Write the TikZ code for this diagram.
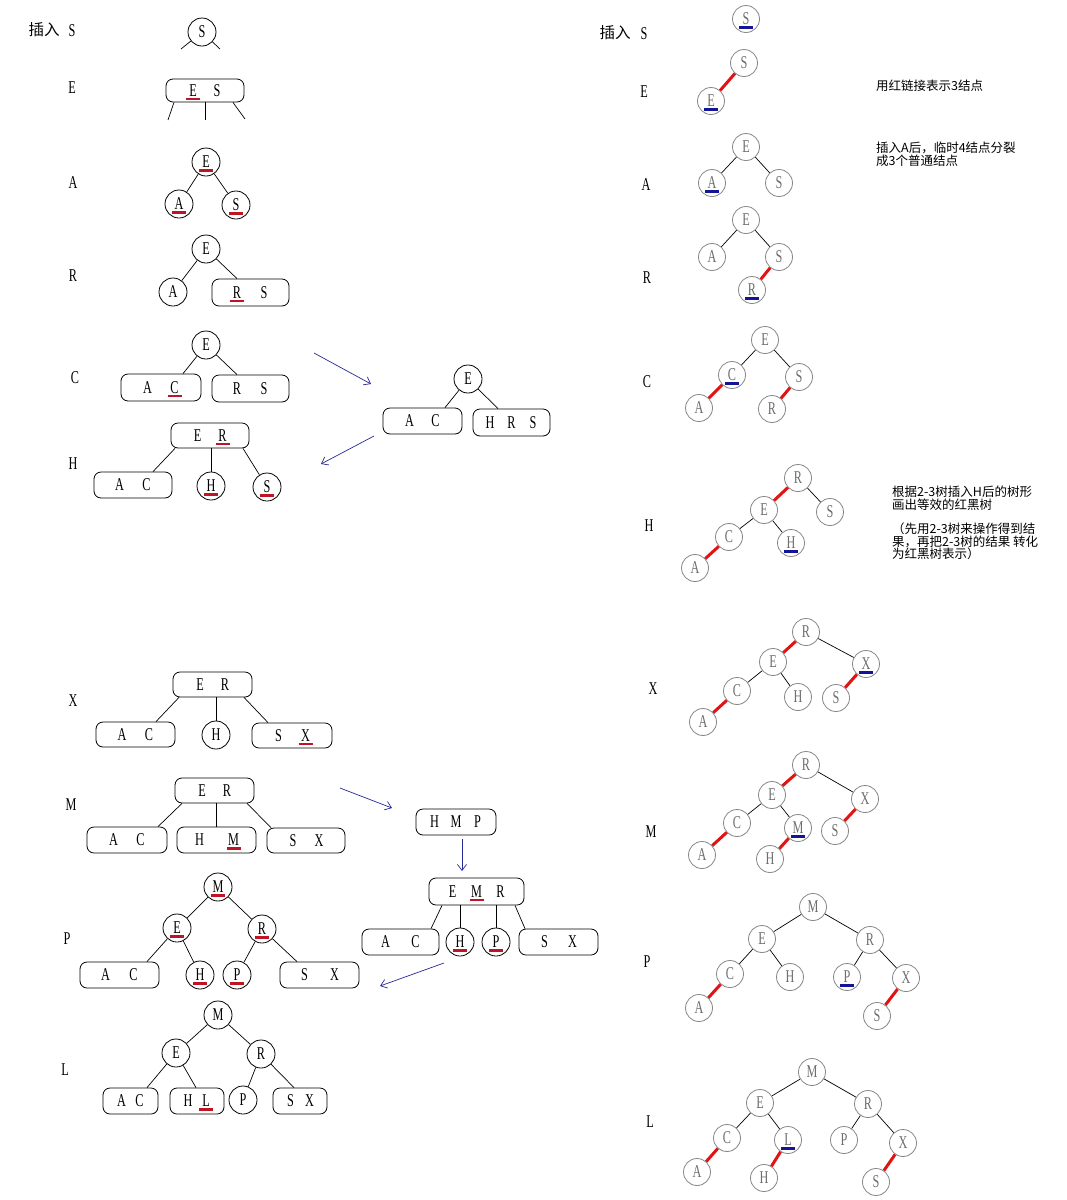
\documentclass[tikz,border=0pt]{standalone}
\usepackage{fontspec}
\setmainfont[FakeStretch=0.68]{Liberation Serif}
\newfontfamily\cjk{Noto Sans CJK SC}
\usetikzlibrary{arrows.meta}

\definecolor{ulred}{RGB}{190,20,35}
\definecolor{ulblue}{RGB}{20,20,150}
\definecolor{lnkred}{RGB}{225,20,20}
\definecolor{ringgray}{RGB}{135,135,135}
\definecolor{txtgray}{RGB}{110,110,110}
\definecolor{arrblue}{RGB}{40,40,150}

% underline marks for the key just inserted
\newcommand\redmark[1]{\setbox0\hbox{#1}\rlap{\hbox to\wd0{\hss\textcolor{ulred}{\rule[-4pt]{14pt}{2.5pt}}\hss}}\box0}
\newcommand\bluemark[1]{\setbox0\hbox{#1}\rlap{\hbox to\wd0{\hss\textcolor{ulblue}{\rule[-4pt]{14pt}{2.5pt}}\hss}}\box0}
% one key slot of a multi-key node
\newcommand\kk[2]{\makebox[#1]{#2}}

\tikzset{
  letters/.style={font=\fontsize{18}{18}\selectfont, text height=11.8pt, text depth=0pt, inner sep=0pt},
  steplbl/.style={letters},
  bn/.style={letters, circle, draw, line width=0.8pt, minimum size=28pt},
  bx/.style={letters, rectangle, rounded corners=7pt, draw, line width=0.8pt, minimum width=79pt, minimum height=26pt},
  gn/.style={letters, circle, draw=ringgray, text=txtgray, line width=0.8pt, minimum size=27pt},
  tline/.style={line width=0.7pt},
  rlink/.style={draw=lnkred, line width=3pt},
  flow/.style={draw=arrblue, line width=0.7pt, -{Straight Barb[length=6pt,width=9pt]}},
  note/.style={font=\cjk\fontsize{12.5}{13}\selectfont, anchor=base west, inner sep=0pt},
  cjklbl/.style={font=\cjk\fontsize{15.5}{15.5}\selectfont, inner sep=0pt},
}

\begin{document}
\begin{tikzpicture}[x=1pt, y=-1pt]
\fill[white] (0,0) rectangle (1067,1200);
\useasboundingbox (0,0) rectangle (1067,1200);

% ---------------- step labels ----------------
\node[cjklbl] (lins) at (44,30) {插入};
\node[steplbl] (lS) at (72,31) {S};
\node[steplbl] (lE) at (72,88) {E};
\node[steplbl] (lA) at (73,183) {A};
\node[steplbl] (lR) at (73,276) {R};
\node[steplbl] (lC) at (75,378) {C};
\node[steplbl] (lH) at (73,464) {H};
\node[steplbl] (lX) at (73,701) {X};
\node[steplbl] (lM) at (71,805) {M};
\node[steplbl] (lP) at (67,939) {P};
\node[steplbl] (lL) at (65,1070) {L};

\node[cjklbl] (rins) at (615,33) {插入};
\node[steplbl] (rS) at (644,34) {S};
\node[steplbl] (rE) at (644,92) {E};
\node[steplbl] (rA) at (646,185) {A};
\node[steplbl] (rR) at (647,278) {R};
\node[steplbl] (rC) at (647,382) {C};
\node[steplbl] (rH) at (649,526) {H};
\node[steplbl] (rX) at (653,689) {X};
\node[steplbl] (rM) at (651,832) {M};
\node[steplbl] (rP) at (647,962) {P};
\node[steplbl] (rL) at (650,1122) {L};

% ---------------- 2-3 trees ----------------
% insert S
\node[bn] (s1S) at (202,32) {S};
\coordinate (s1a) at (181,49);
\coordinate (s1b) at (220,49);
\draw[tline] (s1S) -- (s1a);
\draw[tline] (s1S) -- (s1b);

% insert E
\node[bx, minimum width=78pt, minimum height=23pt] (e1ES) at (205,90.5) {\kk{24pt}{\redmark{E}}\kk{24pt}{S}};
\coordinate (e1a) at (168,120);
\coordinate (e1b) at (205,120);
\coordinate (e1c) at (245,119);
\draw[tline] ([xshift=-31pt]e1ES.south) -- (e1a);
\draw[tline] (e1ES.south) -- (e1b);
\draw[tline] ([xshift=28pt]e1ES.south) -- (e1c);

% insert A
\node[bn] (a1E) at (206,162) {\redmark{E}};
\node[bn] (a1A) at (179,204) {\redmark{A}};
\node[bn] (a1S) at (236,205) {\redmark{S}};
\draw[tline] (a1E) -- (a1A);
\draw[tline] (a1E) -- (a1S);

% insert R
\node[bn] (r1E) at (206,249) {E};
\node[bn] (r1A) at (173,292) {A};
\node[bx, minimum width=77pt, minimum height=27pt] (r1RS) at (250.5,292.5) {\kk{27pt}{\redmark{R}}\kk{27pt}{S}};
\draw[tline] (r1E) -- (r1A);
\draw[tline] (r1E) -- ([xshift=-13.5pt]r1RS.north);

% insert C
\node[bn] (c1E) at (206,345) {E};
\node[bx, minimum width=80pt, minimum height=27pt] (c1AC) at (161,387.5) {\kk{27pt}{A}\kk{27pt}{\redmark{C}}};
\node[bx, minimum width=77pt, minimum height=27pt] (c1RS) at (250.5,388.5) {\kk{27pt}{R}\kk{27pt}{S}};
\draw[tline] (c1E) -- ([xshift=22pt]c1AC.north);
\draw[tline] (c1E) -- ([xshift=-13.5pt]c1RS.north);

% intermediate tree after placing H
\node[bn] (c2E) at (468,379) {E};
\node[bx] (c2AC) at (422.5,421) {\kk{26pt}{A}\kk{26pt}{C}};
\node[bx, minimum width=77pt, minimum height=27pt] (c2HRS) at (511.5,422.5) {\kk{21.5pt}{H}\kk{21.5pt}{R}\kk{21.5pt}{S}};
\draw[tline] (c2E) -- ([xshift=22.5pt]c2AC.north);
\draw[tline] (c2E) -- ([xshift=-13.5pt]c2HRS.north);

\coordinate (ar1a) at (314,353);
\coordinate (ar1b) at (371,384);
\coordinate (ar2a) at (374,436);
\coordinate (ar2b) at (321,464);
\draw[flow] (ar1a) -- (ar1b);
\draw[flow] (ar2a) -- (ar2b);

% insert H
\node[bx, minimum width=78pt, minimum height=25pt] (h1ER) at (210,435.5) {\kk{25pt}{E}\kk{25pt}{\redmark{R}}};
\node[bx, minimum width=78pt] (h1AC) at (133,485) {\kk{27pt}{A}\kk{27pt}{C}};
\node[bn] (h1H) at (211,486) {\redmark{H}};
\node[bn] (h1S) at (267,487) {\redmark{S}};
\draw[tline] ([xshift=-35pt]h1ER.south) -- ([xshift=20pt]h1AC.north);
\draw[tline] (h1H |- h1ER.south) -- (h1H);
\draw[tline] ([xshift=33pt]h1ER.south) -- (h1S);

% insert X
\node[bx, minimum height=25pt] (x1ER) at (212.5,684.5) {\kk{25pt}{E}\kk{25pt}{R}};
\node[bx, minimum height=25pt] (x1AC) at (135.5,734.5) {\kk{27pt}{A}\kk{27pt}{C}};
\node[bn] (x1H) at (216,735) {H};
\node[bx, minimum width=80pt, minimum height=25pt] (x1SX) at (292,735.5) {\kk{27pt}{S}\kk{27pt}{\redmark{X}}};
\draw[tline] ([xshift=-33.5pt]x1ER.south) -- ([xshift=20.5pt]x1AC.north);
\draw[tline] (x1H |- x1ER.south) -- (x1H);
\draw[tline] ([xshift=31.5pt]x1ER.south) -- ([xshift=-24pt]x1SX.north);

% insert M
\node[bx, minimum height=25pt] (m1ER) at (214.5,790.5) {\kk{25pt}{E}\kk{25pt}{R}};
\node[bx, minimum width=80pt] (m1AC) at (127,840) {\kk{27pt}{A}\kk{27pt}{C}};
\node[bx] (m1HM) at (216.5,840) {\kk{34pt}{H}\kk{34pt}{\redmark{M}}};
\node[bx, minimum width=78pt, minimum height=25pt] (m1SX) at (306,840.5) {\kk{26pt}{S}\kk{26pt}{X}};
\draw[tline] ([xshift=-32.5pt]m1ER.south) -- ([xshift=31pt]m1AC.north);
\draw[tline] ([xshift=1.5pt]m1ER.south) -- ([xshift=-0.5pt]m1HM.north);
\draw[tline] ([xshift=32.5pt]m1ER.south) -- ([xshift=-35pt]m1SX.north);

% temporary 4-node H M P and its split
\node[bx, minimum width=80pt] (m2HMP) at (456,822) {\kk{21.5pt}{H}\kk{21.5pt}{M}\kk{21.5pt}{P}};
\node[bx, minimum width=95pt, minimum height=27pt] (m2EMR) at (476.5,891.5) {\kk{24pt}{E}\kk{24pt}{\redmark{M}}\kk{24pt}{R}};
\node[bx, minimum width=77pt] (m2AC) at (400.5,942) {\kk{30pt}{A}\kk{30pt}{C}};
\node[bn] (m2H) at (460,942) {\redmark{H}};
\node[bn] (m2P) at (496,942) {\redmark{P}};
\node[bx] (m2SX) at (558.5,942) {\kk{28pt}{S}\kk{28pt}{X}};
\draw[tline] ([xshift=-34.5pt]m2EMR.south) -- ([xshift=30.5pt]m2AC.north);
\draw[tline] (m2H |- m2EMR.south) -- (m2H);
\draw[tline] (m2P |- m2EMR.south) -- (m2P);
\draw[tline] ([xshift=38.5pt]m2EMR.south) -- ([xshift=-33.5pt]m2SX.north);

\coordinate (ar3a) at (340,788);
\coordinate (ar3b) at (392,808);
\coordinate (ar4a) at (462,839);
\coordinate (ar4b) at (462,871);
\coordinate (ar5a) at (444,963);
\coordinate (ar5b) at (380,986);
\draw[flow] (ar3a) -- (ar3b);
\draw[flow] (ar4a) -- (ar4b);
\draw[flow] (ar5a) -- (ar5b);

% insert P
\node[bn] (p1M) at (218,887) {\redmark{M}};
\node[bn] (p1E) at (177,928) {\redmark{E}};
\node[bn] (p1R) at (262,929) {\redmark{R}};
\node[bx] (p1AC) at (119.5,975) {\kk{28pt}{A}\kk{28pt}{C}};
\node[bn] (p1H) at (200,975) {\redmark{H}};
\node[bn] (p1P) at (237,975) {\redmark{P}};
\node[bx] (p1SX) at (319.5,975) {\kk{30pt}{S}\kk{30pt}{X}};
\draw[tline] (p1M) -- (p1E);
\draw[tline] (p1M) -- (p1R);
\draw[tline] (p1E) -- ([xshift=27.5pt]p1AC.north);
\draw[tline] (p1E) -- (p1H);
\draw[tline] (p1R) -- (p1P);
\draw[tline] (p1R) -- ([xshift=-22.5pt]p1SX.north);

% insert L
\node[bn] (l1M) at (218,1015) {M};
\node[bn] (l1E) at (176,1053) {E};
\node[bn] (l1R) at (261,1054) {R};
\node[bx, minimum width=55pt] (l1AC) at (130.5,1101) {\kk{18pt}{A}\kk{18pt}{C}};
\node[bx, minimum width=54pt] (l1HL) at (197,1101) {\kk{18pt}{H}\kk{18pt}{\redmark{L}}};
\node[bn] (l1P) at (243,1100) {P};
\node[bx, minimum width=54pt] (l1SX) at (300,1101) {\kk{19pt}{S}\kk{19pt}{X}};
\draw[tline] (l1M) -- (l1E);
\draw[tline] (l1M) -- (l1R);
\draw[tline] (l1E) -- ([xshift=16.5pt]l1AC.north);
\draw[tline] (l1E) -- ([xshift=-1pt]l1HL.north);
\draw[tline] (l1R) -- (l1P);
\draw[tline] (l1R) -- ([xshift=-6pt]l1SX.north);

% ---------------- equivalent red-black trees ----------------
\node[gn] (gsS) at (746,19) {\bluemark{S}};

\node[gn] (geS) at (744,63) {S};
\node[gn] (geE) at (711,101) {\bluemark{E}};
\draw[rlink] (geS) -- (geE);

\node[gn] (gaE) at (746,147) {E};
\node[gn] (gaA) at (712,183) {\bluemark{A}};
\node[gn] (gaS) at (779,183) {S};
\draw[tline] (gaE) -- (gaA);
\draw[tline] (gaE) -- (gaS);

\node[gn] (grE) at (746,220) {E};
\node[gn] (grA) at (712,257) {A};
\node[gn] (grS) at (779,257) {S};
\node[gn] (grR) at (752,290) {\bluemark{R}};
\draw[tline] (grE) -- (grA);
\draw[tline] (grE) -- (grS);
\draw[rlink] (grS) -- (grR);

\node[gn] (gcE) at (765,340) {E};
\node[gn] (gcC) at (732,375) {\bluemark{C}};
\node[gn] (gcS) at (799,377) {S};
\node[gn] (gcA) at (699,408) {A};
\node[gn] (gcR) at (772,409) {R};
\draw[tline] (gcE) -- (gcC);
\draw[tline] (gcE) -- (gcS);
\draw[rlink] (gcC) -- (gcA);
\draw[rlink] (gcS) -- (gcR);

\node[gn] (ghR) at (798,478) {R};
\node[gn] (ghE) at (764,510) {E};
\node[gn] (ghS) at (830,512) {S};
\node[gn] (ghC) at (729,537) {C};
\node[gn] (ghH) at (791,543) {\bluemark{H}};
\node[gn] (ghA) at (695,568) {A};
\draw[rlink] (ghR) -- (ghE);
\draw[tline] (ghR) -- (ghS);
\draw[tline] (ghE) -- (ghC);
\draw[tline] (ghE) -- (ghH);
\draw[rlink] (ghC) -- (ghA);

\node[gn] (gxR) at (806,632) {R};
\node[gn] (gxE) at (773,662) {E};
\node[gn] (gxX) at (866,664) {\bluemark{X}};
\node[gn] (gxC) at (737,691) {C};
\node[gn] (gxH) at (798,697) {H};
\node[gn] (gxS) at (836,698) {S};
\node[gn] (gxA) at (703,722) {A};
\draw[rlink] (gxR) -- (gxE);
\draw[tline] (gxR) -- (gxX);
\draw[tline] (gxE) -- (gxC);
\draw[tline] (gxE) -- (gxH);
\draw[rlink] (gxC) -- (gxA);
\draw[rlink] (gxX) -- (gxS);

\node[gn] (gmR) at (806,765) {R};
\node[gn] (gmE) at (772,795) {E};
\node[gn] (gmX) at (865,799) {X};
\node[gn] (gmC) at (737,823) {C};
\node[gn] (gmM) at (798,828) {\bluemark{M}};
\node[gn] (gmS) at (835,831) {S};
\node[gn] (gmA) at (702,855) {A};
\node[gn] (gmH) at (770,859) {H};
\draw[rlink] (gmR) -- (gmE);
\draw[tline] (gmR) -- (gmX);
\draw[tline] (gmE) -- (gmC);
\draw[tline] (gmE) -- (gmM);
\draw[rlink] (gmC) -- (gmA);
\draw[rlink] (gmX) -- (gmS);
\draw[rlink] (gmM) -- (gmH);

\node[gn] (gpM) at (813,907) {M};
\node[gn] (gpE) at (762,939) {E};
\node[gn] (gpR) at (870,940) {R};
\node[gn] (gpC) at (730,974) {C};
\node[gn] (gpH) at (790,977) {H};
\node[gn] (gpP) at (847,977) {\bluemark{P}};
\node[gn] (gpX) at (906,978) {X};
\node[gn] (gpA) at (699,1008) {A};
\node[gn] (gpS) at (877,1016) {S};
\draw[tline] (gpM) -- (gpE);
\draw[tline] (gpM) -- (gpR);
\draw[tline] (gpE) -- (gpC);
\draw[tline] (gpE) -- (gpH);
\draw[tline] (gpR) -- (gpP);
\draw[tline] (gpR) -- (gpX);
\draw[rlink] (gpC) -- (gpA);
\draw[rlink] (gpX) -- (gpS);

\node[gn] (glM) at (812,1072) {M};
\node[gn] (glE) at (760,1103) {E};
\node[gn] (glR) at (868,1104) {R};
\node[gn] (glC) at (727,1138) {C};
\node[gn] (glL) at (788,1140) {\bluemark{L}};
\node[gn] (glP) at (844,1140) {P};
\node[gn] (glX) at (903,1143) {X};
\node[gn] (glA) at (697,1172) {A};
\node[gn] (glH) at (764,1178) {H};
\node[gn] (glS) at (876,1182) {S};
\draw[tline] (glM) -- (glE);
\draw[tline] (glM) -- (glR);
\draw[tline] (glE) -- (glC);
\draw[tline] (glE) -- (glL);
\draw[tline] (glR) -- (glP);
\draw[tline] (glR) -- (glX);
\draw[rlink] (glC) -- (glA);
\draw[rlink] (glL) -- (glH);
\draw[rlink] (glX) -- (glS);

% ---------------- notes ----------------
\node[note] (n1) at (876,90) {用红链接表示3结点};
\node[note] (n2) at (876,152) {插入A后，临时4结点分裂};
\node[note] (n3) at (876,165) {成3个普通结点};
\node[note] (n4) at (892,496.5) {根据2-3树插入H后的树形};
\node[note] (n5) at (892,509) {画出等效的红黑树};
\node[note] (n6) at (892,533) {（先用2-3树来操作得到结};
\node[note] (n7) at (892,546) {果，再把2-3树的结果 转化};
\node[note] (n8) at (892,558) {为红黑树表示）};
\end{tikzpicture}
\end{document}
